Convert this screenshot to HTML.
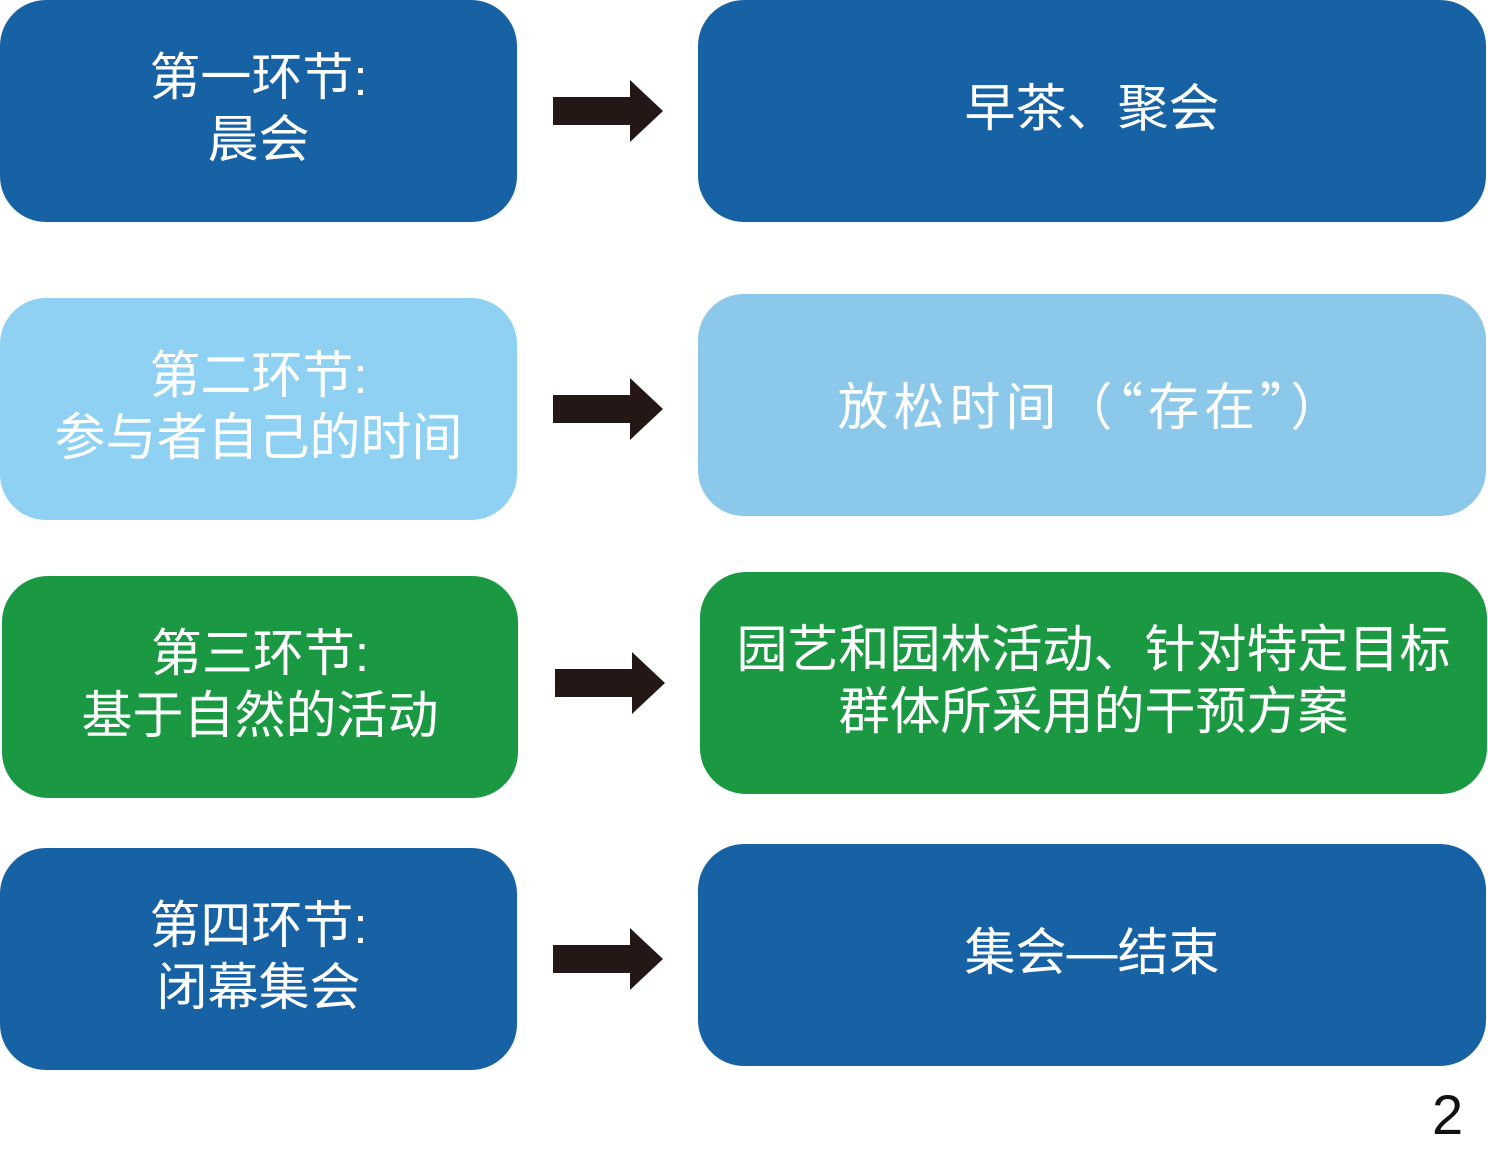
<!DOCTYPE html>
<html><head><meta charset="utf-8"><style>
html,body{margin:0;padding:0;background:#fff;}
body{width:1488px;height:1153px;position:relative;overflow:hidden;font-family:"Liberation Sans","Noto Sans CJK SC",sans-serif;}
.b{position:absolute;border-radius:46px;color:#fff;display:flex;align-items:center;justify-content:center;text-align:center;font-size:51px;line-height:62px;box-sizing:border-box;padding-bottom:4px;}
.d{background:#1762a5;}
.l1{background:#8fd1f3;}
.l2{background:#8bc8e9;}
.g{background:#1b9942;}
.a{position:absolute;width:111px;height:62px;}
.n{position:absolute;left:1432px;top:1082px;font-size:56px;color:#111;}
.cjk{font-family:"Noto Sans CJK SC",sans-serif;}
</style></head><body>
<div class="b d" style="left:0;top:0;width:517px;height:222px;">第一环节:<br>晨会</div>
<div class="b d" style="left:698px;top:0;width:788px;height:222px;">早茶、聚会</div>
<div class="b l1" style="left:0;top:298px;width:517px;height:222px;">第二环节:<br>参与者自己的时间</div>
<div class="b l2 cjk" style="left:698px;top:294px;width:788px;height:222px;letter-spacing:5px;">放松时间（“存在”）</div>
<div class="b g" style="left:2px;top:576px;width:516px;height:222px;">第三环节:<br>基于自然的活动</div>
<div class="b g" style="left:700px;top:572px;width:787px;height:222px;">园艺和园林活动、针对特定目标<br>群体所采用的干预方案</div>
<div class="b d" style="left:0;top:848px;width:517px;height:222px;">第四环节:<br>闭幕集会</div>
<div class="b d" style="left:698px;top:844px;width:788px;height:222px;">集会—结束</div>
<svg class="a" style="left:553px;top:80px" viewBox="0 0 111 62"><path d="M0 17H77V0L110 31L77 62V45H0Z" fill="#231815"/></svg>
<svg class="a" style="left:553px;top:378px" viewBox="0 0 111 62"><path d="M0 17H77V0L110 31L77 62V45H0Z" fill="#231815"/></svg>
<svg class="a" style="left:555px;top:652px" viewBox="0 0 111 62"><path d="M0 17H77V0L110 31L77 62V45H0Z" fill="#231815"/></svg>
<svg class="a" style="left:553px;top:928px" viewBox="0 0 111 62"><path d="M0 17H77V0L110 31L77 62V45H0Z" fill="#231815"/></svg>
<div class="n">2</div>
</body></html>
